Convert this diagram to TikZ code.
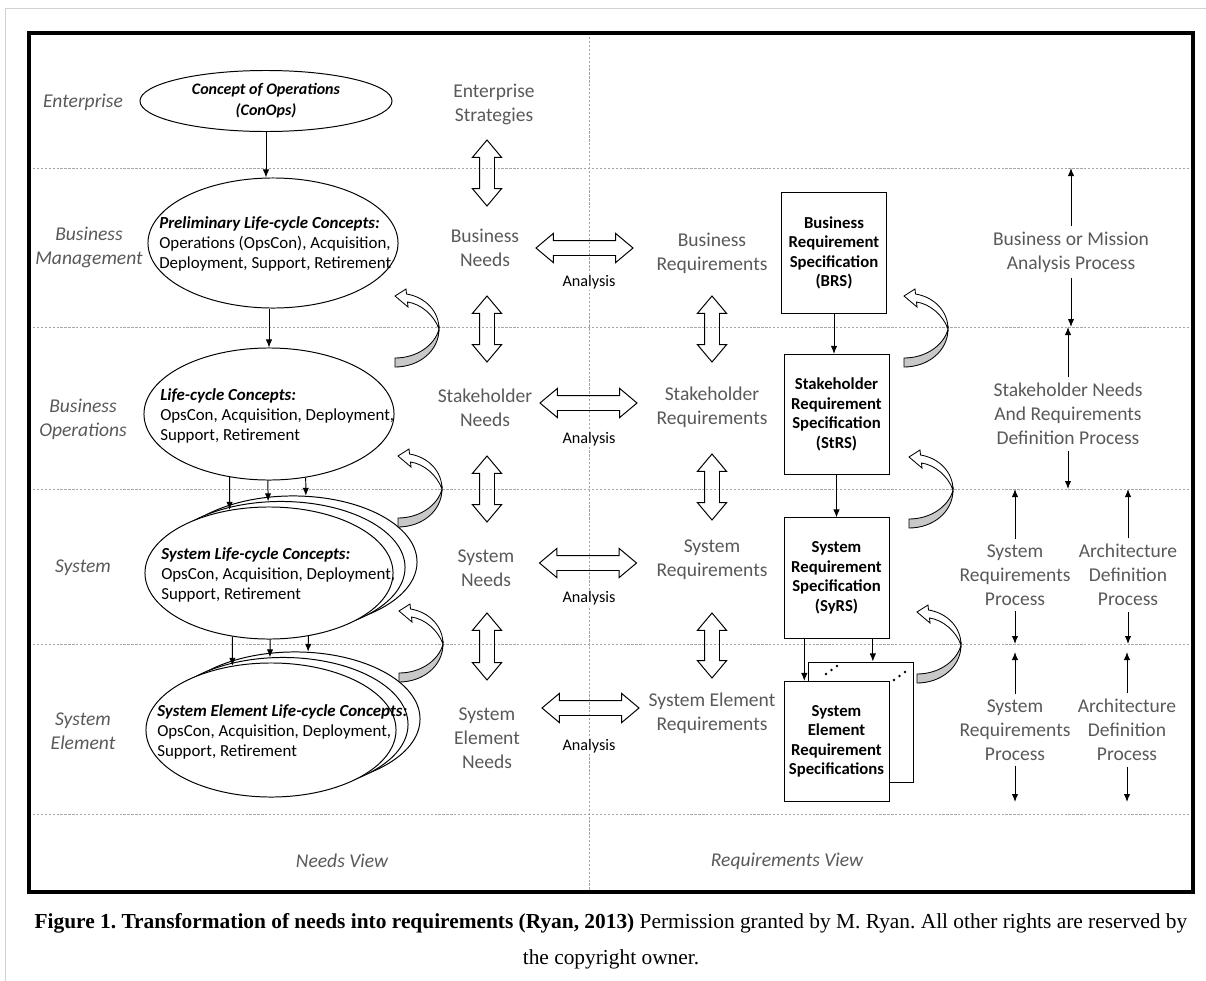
\documentclass[tikz,border=0pt]{standalone}
\usepackage{fontspec}
\setmainfont{Carlito}
\newfontfamily\capfont{Liberation Serif}
\usetikzlibrary{shapes.geometric,shapes.arrows,arrows.meta}
\definecolor{lblgray}{HTML}{595959}
\definecolor{linegray}{HTML}{A6A6A6}
\definecolor{underside}{HTML}{C8C8C8}
\frenchspacing
\tikzset{
  turnarrow/.pic={
    \draw[fill=white, line width=0.6pt] (0,0) .. controls (0,-18) and (-14,-32) .. (-32.5,-35)
      -- (-33,-40) -- (-44,-33) -- (-31,-22) -- (-31.5,-27)
      .. controls (-18,-25) and (-5,-14) .. (0,0) -- cycle;
    \draw[fill=underside, line width=0.6pt] (0,0) .. controls (0,22) and (-20,38) .. (-44,38)
      -- (-44,29) .. controls (-22,29) and (-4,16) .. (0,0) -- cycle;
  }
}
\begin{document}
\begin{tikzpicture}[x=0.025cm, y=-0.025cm,
  dotline/.style={draw=linegray, line width=0.6pt, dash pattern=on 1.6pt off 1.2pt},
  lbl/.style={text=lblgray, align=center, font=\fontsize{13.9}{17}\selectfont},
  rowlbl/.style={text=lblgray, align=center, font=\fontsize{13.9}{17}\selectfont\itshape},
  proc/.style={lbl, inner sep=4pt},
  lcell/.style={ellipse, draw, fill=white, line width=0.7pt, inner sep=0pt},
  ltext/.style={align=left, inner sep=0pt, font=\fontsize{12}{14}\selectfont},
  specbox/.style={draw, fill=white, line width=0.7pt, minimum width=2.625cm, minimum height=3cm,
    inner sep=0pt, align=center, font=\fontsize{11.9}{13.9}\selectfont\bfseries},
  dblarrow/.style={double arrow, draw, line width=0.7pt, minimum height=#1, inner xsep=0pt,
    inner ysep=0.175cm, double arrow head extend=0.175cm, double arrow tip angle=80},
  analysis/.style={fill=white, inner sep=1pt, font=\fontsize{11.5}{14}\selectfont},
  flow/.style={-{Latex[length=2mm,width=1.6mm]}, line width=0.7pt},
  capnode/.style={inner sep=0pt, font=\capfont\fontsize{15.2}{18}\selectfont}]
\useasboundingbox (0,0) rectangle (1206,981);
\draw[gray!35, line width=0.6pt] (5,981) -- (5,8) -- (1206,8);

% grid of levels and views
\coordinate (h1) at (29,168);
\coordinate (h2) at (29,327);
\coordinate (h3) at (29,489);
\coordinate (h4) at (29,644);
\coordinate (h5) at (29,814);
\coordinate (vtop) at (589,33);
\foreach \h in {h1,h2,h3,h4,h5}
  \draw[dotline] (\h) -- ++(1164,0);
\draw[dotline] (vtop) -- ++(0,859);
\draw[line width=2.2pt] (29,33) rectangle (1193,892);

% level names
\node[rowlbl] (ent) at (83,102) {Enterprise};
\node[rowlbl] (bmgt) at (89,247) {Business\\Management};
\node[rowlbl] (bops) at (83,419) {Business\\Operations};
\node[rowlbl] (sysl) at (83,568) {System};
\node[rowlbl] (sel) at (83,731) {System\\Element};

% needs view
\node[lcell, minimum width=6.3cm, minimum height=1.525cm] (conops) at (266,101) {};
\node[ltext, align=center, font=\fontsize{11.4}{15}\selectfont\bfseries\itshape] (conopstxt) at (conops) {Concept of Operations\\(ConOps)};
\node[lcell, minimum width=6.25cm, minimum height=3.25cm] (prelim) at (273,243) {};
\node[ltext, anchor=west] (prelimtxt) at (159,244) {\textbf{\textit{Preliminary Life-cycle Concepts:}}\\Operations (OpsCon), Acquisition,\\Deployment, Support, Retirement};
\node[lcell, minimum width=6.25cm, minimum height=3.3cm] (lc) at (269,414) {};
\node[ltext, anchor=west] (lctxt) at (160,416) {\textbf{\textit{Life-cycle Concepts:}}\\OpsCon, Acquisition, Deployment,\\Support, Retirement};
\foreach \k/\d in {3/24,2/12,1/0}
  \node[lcell, minimum width=6.2cm, minimum height=3.3cm] (sys\k) at (269+\d,573-0.46*\d) {};
\node[ltext, anchor=west] (systxt) at (161,575) {\textbf{\textit{System Life-cycle Concepts:}}\\OpsCon, Acquisition, Deployment,\\Support, Retirement};
\foreach \k/\d in {3/24,2/12,1/0}
  \node[lcell, minimum width=6.25cm, minimum height=3.35cm] (se\k) at (271+\d,730-0.46*\d) {};
\node[ltext, anchor=west] (setxt) at (157,732) {\textbf{\textit{System Element Life-cycle Concepts:}}\\OpsCon, Acquisition, Deployment,\\Support, Retirement};

\draw[flow] (conops.south) -- (conops.south |- prelim.north);
\draw[flow] (lc.north |- prelim.south) -- (lc.north);
\draw[flow] (lc.-122) -- (sys1.122);
\draw[flow] (lc.-91) -- (sys2.101);
\draw[flow] (lc.-60) -- (sys3.79);
\draw[flow] (sys1.-120) -- (se1.121);
\draw[flow] (sys1.-89) -- (se2.101);
\draw[flow] (sys1.-58) -- (se3.79);

\node[lbl] (estrat) at (494,104) {Enterprise\\Strategies};
\node[lbl] (bneeds) at (485,248) {Business\\Needs};
\node[lbl] (sneeds) at (485,408) {Stakeholder\\Needs};
\node[lbl] (syneeds) at (486,568) {System\\Needs};
\node[lbl] (seneeds) at (487,738) {System\\Element\\Needs};
\node[dblarrow=1.65cm, rotate=90] (esbn) at (487,173) {};
\node[dblarrow=1.65cm, rotate=90] (bnsn) at (487,329) {};
\node[dblarrow=1.65cm, rotate=90] (snsy) at (487,489) {};
\node[dblarrow=1.675cm, rotate=90] (syse) at (487,646.5) {};

% analysis
\node[dblarrow=2.425cm] (anbus) at (584.5,248) {};
\node[dblarrow=2.425cm] (anstk) at (588.5,403) {};
\node[dblarrow=2.425cm] (ansys) at (588,563) {};
\node[dblarrow=2.425cm] (anse) at (590.5,708) {};
\foreach \y in {282,439,598,746}
  \node[analysis] (an\y) at (589,\y) {Analysis};

% requirements view
\node[lbl] (breq) at (712,253) {Business\\Requirements};
\node[lbl] (sreq) at (712,407) {Stakeholder\\Requirements};
\node[lbl] (syreq) at (712,560) {System\\Requirements};
\node[lbl] (sereq) at (712,713) {System Element\\Requirements};
\node[dblarrow=1.65cm, rotate=90] (brsr) at (712,329) {};
\node[dblarrow=1.65cm, rotate=90] (srsy) at (712,487) {};
\node[dblarrow=1.625cm, rotate=90] (syser) at (712,645.5) {};

\node[specbox] (brs) at (834,253) {Business\\Requirement\\Specification\\(BRS)};
\node[specbox] (strs) at (836.5,414.5) {Stakeholder\\Requirement\\Specification\\(StRS)};
\node[specbox] (syrs) at (836.5,578) {System\\Requirement\\Specification\\(SyRS)};
\node[specbox] (sers2) at (860.5,722) {};
\node[specbox] (sers) at (836.5,741.5) {System\\Element\\Requirement\\Specifications};
\foreach \p in {0,1,2} {
  \fill (826+5.5*\p,674-4*\p) circle (0.9pt);
  \fill (894+5.5*\p,680-4*\p) circle (0.9pt);
}
\draw[flow] (brs.south) -- (brs.south |- strs.north);
\draw[flow] (strs.south) -- (strs.south |- syrs.north);
\draw[flow] (syrs.-118) -- (syrs.-118 |- sers.north);
\draw[flow] (syrs.-59) -- (syrs.-59 |- sers2.north);

% feedback turns
\foreach \px/\py in {439/329,442/489,443/644,948/329,953/490,961/645}
  \pic at (\px,\py) {turnarrow};

% processes
\node[proc] (bma) at (1071,252) {Business or Mission\\Analysis Process};
\node[proc] (snr) at (1068,414) {Stakeholder Needs\\And Requirements\\Definition Process};
\node[proc] (srp) at (1015,575) {System\\Requirements\\Process};
\node[proc] (adp) at (1128,575) {Architecture\\Definition\\Process};
\node[proc] (srpe) at (1015,730) {System\\Requirements\\Process};
\node[proc] (adpe) at (1127,730) {Architecture\\Definition\\Process};
\draw[flow] (bma.north) -- (bma.north |- h1);
\draw[flow] (bma.south) -- (bma.south |- h2);
\draw[flow] (snr.north) -- (snr.north |- h2);
\draw[flow] (snr.south) -- (snr.south |- h3);
\foreach \n in {srp,adp} {
  \draw[flow] (\n.north) -- (\n.north |- h3);
  \draw[flow] (\n.south) -- (\n.south |- h4);
}
\foreach \n in {srpe,adpe} {
  \draw[flow, shorten >=0.2cm] (\n.north) -- (\n.north |- h4);
  \draw[flow, shorten >=0.3cm] (\n.south) -- (\n.south |- h5);
}

\node[rowlbl] (nview) at (342,861) {Needs View};
\node[rowlbl] (rview) at (787,861) {Requirements View};

\node[capnode, anchor=base] (cap1) at (611,928) {\textbf{Figure 1. Transformation of needs into requirements (Ryan, 2013)} Permission granted by M. Ryan. All other rights are reserved by};
\node[capnode, anchor=base] (cap2) at (611,964) {the copyright owner.};
\end{tikzpicture}
\end{document}
